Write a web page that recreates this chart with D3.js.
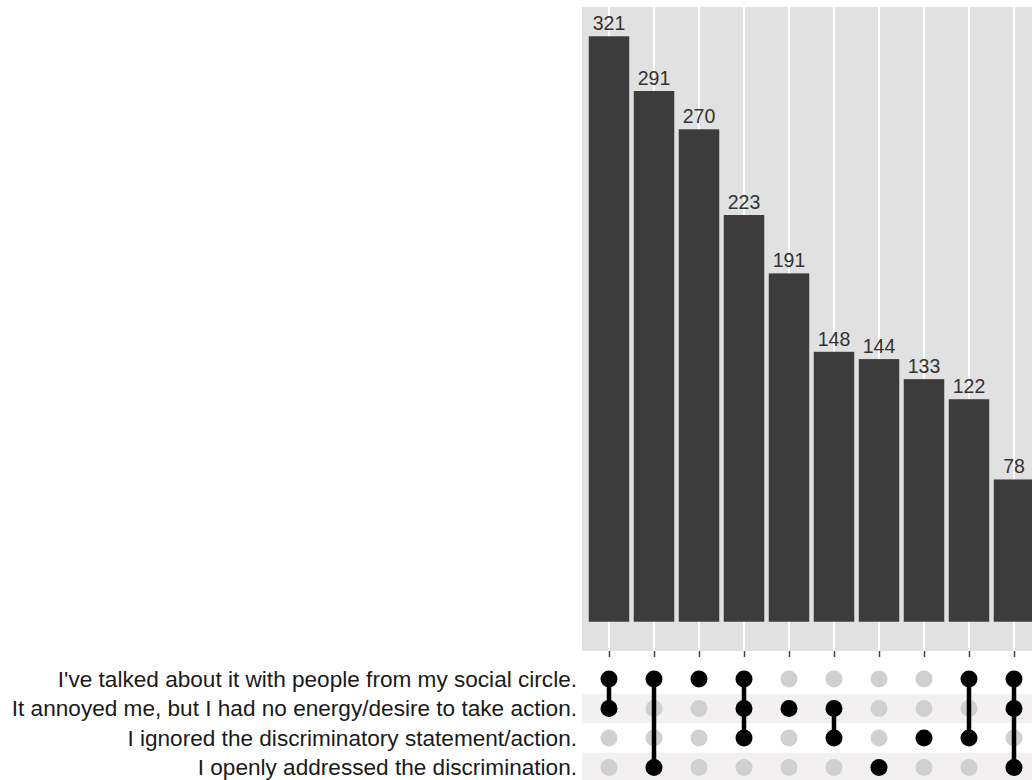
<!DOCTYPE html>
<html>
<head>
<meta charset="utf-8">
<script src="https://cdn.jsdelivr.net/npm/d3@7"></script>
<style>
  html, body { margin: 0; padding: 0; background: #fff; }
  svg { display: block; }
  text { font-family: "Liberation Sans", Arial, sans-serif; }
</style>
</head>
<body>
<svg id="chart" width="1032" height="780"></svg>
<script>
// ---- data ----
const sets = [
  "I've talked about it with people from my social circle.",
  "It annoyed me, but I had no energy/desire to take action.",
  "I ignored the discriminatory statement/action.",
  "I openly addressed the discrimination."
];
const intersectionIds = ["c1","c2","c3","c4","c5","c6","c7","c8","c9","c10"];
const intersectionSizes = [321, 291, 270, 223, 191, 148, 144, 133, 122, 78];
// membership: indices into sets
const intersectionMembers = [
  [0, 1],
  [0, 3],
  [0],
  [0, 1, 2],
  [1],
  [1, 2],
  [3],
  [2],
  [0, 2],
  [0, 1, 3]
];

// ---- layout ----
const svg = d3.select("#chart");
const panelLeft = 582, panelRight = 1041, panelTop = 7, panelBottom = 651;

const x = d3.scalePoint().domain(intersectionIds).range([panelLeft, panelRight]).padding(0.6);
const step = x.step();
const barW = step * 0.9;

const maxV = d3.max(intersectionSizes);
const y = d3.scaleLinear().domain([-0.05 * maxV, maxV * 1.05]).range([panelBottom, panelTop]);

// panel background
svg.append("rect")
  .attr("x", panelLeft).attr("y", panelTop)
  .attr("width", panelRight - panelLeft).attr("height", panelBottom - panelTop)
  .attr("fill", "#e1e1e1");

// vertical grid lines
svg.append("g").selectAll("line").data(intersectionIds).join("line")
  .attr("x1", d => x(d)).attr("x2", d => x(d))
  .attr("y1", panelTop).attr("y2", panelBottom)
  .attr("stroke", "#ffffff").attr("stroke-width", 2);

// bars
const data = intersectionIds.map((id, i) => ({ id, v: intersectionSizes[i], m: intersectionMembers[i] }));
svg.append("g").selectAll("rect").data(data).join("rect")
  .attr("x", d => x(d.id) - barW / 2)
  .attr("width", barW)
  .attr("y", d => y(d.v))
  .attr("height", d => y(0) - y(d.v))
  .attr("fill", "#3c3c3c");

// value labels
svg.append("g").selectAll("text").data(data).join("text")
  .attr("x", d => x(d.id))
  .attr("y", d => y(d.v) - 6)
  .attr("text-anchor", "middle")
  .attr("font-size", 19.5)
  .attr("fill", "#333333")
  .text(d => d.v);

// x axis ticks (no labels)
const xAxis = d3.axisBottom(x).tickSize(6).tickFormat("");
const gx = svg.append("g").attr("transform", `translate(0,${panelBottom})`).call(xAxis);
gx.select(".domain").remove();
gx.selectAll(".tick line").attr("stroke", "#444").attr("stroke-width", 1.5);

// ---- matrix ----
const rowY = d3.scalePoint().domain(sets).range([679, 767.5]);
const rowH = 29.5;

// stripes for alternating rows
svg.append("g").selectAll("rect").data(sets.filter((s, i) => i % 2 === 1)).join("rect")
  .attr("x", panelLeft)
  .attr("width", panelRight - panelLeft)
  .attr("y", d => rowY(d) - rowH / 2)
  .attr("height", rowH)
  .attr("fill", "#f2f0f0");

// set labels
svg.append("g").selectAll("text").data(sets).join("text")
  .attr("x", 577)
  .attr("y", d => rowY(d))
  .attr("dy", "0.35em")
  .attr("text-anchor", "end")
  .attr("font-size", 22.6)
  .attr("fill", "#1a1a1a")
  .text(d => d);

// grey dots
const cells = [];
data.forEach(d => sets.forEach((s, si) => cells.push({ id: d.id, s, on: d.m.includes(si) })));
svg.append("g").selectAll("circle").data(cells.filter(c => !c.on)).join("circle")
  .attr("cx", c => x(c.id)).attr("cy", c => rowY(c.s)).attr("r", 8.5)
  .attr("fill", "#d0d0d0");

// connecting lines
svg.append("g").selectAll("line").data(data.filter(d => d.m.length > 1)).join("line")
  .attr("x1", d => x(d.id)).attr("x2", d => x(d.id))
  .attr("y1", d => rowY(sets[d3.min(d.m)]))
  .attr("y2", d => rowY(sets[d3.max(d.m)]))
  .attr("stroke", "#000").attr("stroke-width", 4.5);

// black dots
svg.append("g").selectAll("circle").data(cells.filter(c => c.on)).join("circle")
  .attr("cx", c => x(c.id)).attr("cy", c => rowY(c.s)).attr("r", 8.5)
  .attr("fill", "#000");
</script>
</body>
</html>
